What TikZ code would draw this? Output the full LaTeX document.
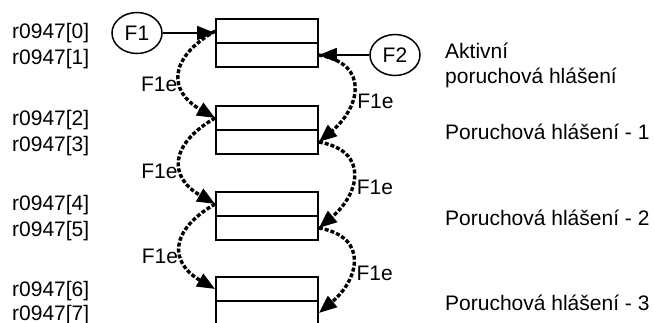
\documentclass[tikz,border=0pt]{standalone}
\usepackage{fontspec}
\setmainfont{Liberation Sans}
\usetikzlibrary{arrows.meta,shapes.geometric}
\begin{document}
\begin{tikzpicture}[x=1pt,y=1pt,
  every node/.style={font=\fontsize{21}{25}\selectfont},
  lbl/.style={anchor=base west, inner sep=0pt},
  row/.style={draw, line width=1.7pt, minimum width=102pt, minimum height=24pt, inner sep=0pt},
  fault/.style={draw, ellipse, line width=1.5pt, minimum width=50pt, minimum height=41pt, inner sep=0pt},
  solidarrow/.style={line width=1.5pt, -{Triangle[length=18pt,width=14pt]}},
  dasharrow/.style={line width=3.4pt, dash pattern=on 4pt off 2pt, -{Triangle[length=18pt,width=14pt]}},
  elbl/.style={inner sep=1pt}]
\useasboundingbox (0,0) rectangle (654,-322);
\clip (0,0) rectangle (654,-322);
% boxes
\node[row] (b1t) at (267,-31) {};
\node[row] (b1b) at (267,-55) {};
\node[row] (b2t) at (267,-118) {};
\node[row] (b2b) at (267,-142) {};
\node[row] (b3t) at (267,-204) {};
\node[row] (b3b) at (267,-228) {};
\node[row] (b4t) at (267,-289) {};
\node[row] (b4b) at (267,-313) {};
% fault circles
\node[fault] (f1) at (137,-33) {F1};
\node[fault] (f2) at (395,-55) {F2};
\draw[solidarrow] (f1) -- (f1 -| b1t.west);
\draw[solidarrow] (f2) -- (f2 -| b1b.east);
% left arcs
\draw[dasharrow] (b1t.west) to[out=210,in=150,looseness=1.6] node[midway,anchor=north east,elbl] {F1e} (b2t.west);
\draw[dasharrow] (b2t.west) to[out=210,in=150,looseness=1.6] node[midway,anchor=north east,elbl] {F1e} (b3t.west);
\draw[dasharrow] (b3t.west) to[out=210,in=150,looseness=1.6] node[midway,anchor=north east,elbl] {F1e} (b4t.west);
% right arcs
\draw[dasharrow] (b1b.east) to[out=-10,in=40,looseness=1.56] node[midway,anchor=north west,elbl,yshift=-2pt,xshift=1pt] {F1e} (b2b.east);
\draw[dasharrow] (b2b.east) to[out=-10,in=40,looseness=1.56] node[midway,anchor=north west,elbl,yshift=-2pt,xshift=1pt] {F1e} (b3b.east);
\draw[dasharrow] (b3b.east) to[out=-10,in=40,looseness=1.56] node[midway,anchor=north west,elbl,yshift=-2pt,xshift=1pt] {F1e} (b4b.east);
% left labels
\node[lbl] (r0) at (12,-38) {r0947[0]};
\node[lbl] (r1) at (12,-64) {r0947[1]};
\node[lbl] (r2) at (12,-125) {r0947[2]};
\node[lbl] (r3) at (12,-151) {r0947[3]};
\node[lbl] (r4) at (12,-210) {r0947[4]};
\node[lbl] (r5) at (12,-236) {r0947[5]};
\node[lbl] (r6) at (12,-296) {r0947[6]};
\node[lbl] (r7) at (12,-320) {r0947[7]};
% right labels
\node[lbl] (t0) at (445,-58.5) {Aktivní};
\node[lbl] (t0b) at (445,-83.5) {poruchová hlášení};
\node[lbl] (t1) at (445,-139) {Poruchová hlášení - 1};
\node[lbl] (t2) at (445,-225) {Poruchová hlášení - 2};
\node[lbl] (t3) at (445,-310) {Poruchová hlášení - 3};
\end{tikzpicture}
\end{document}
